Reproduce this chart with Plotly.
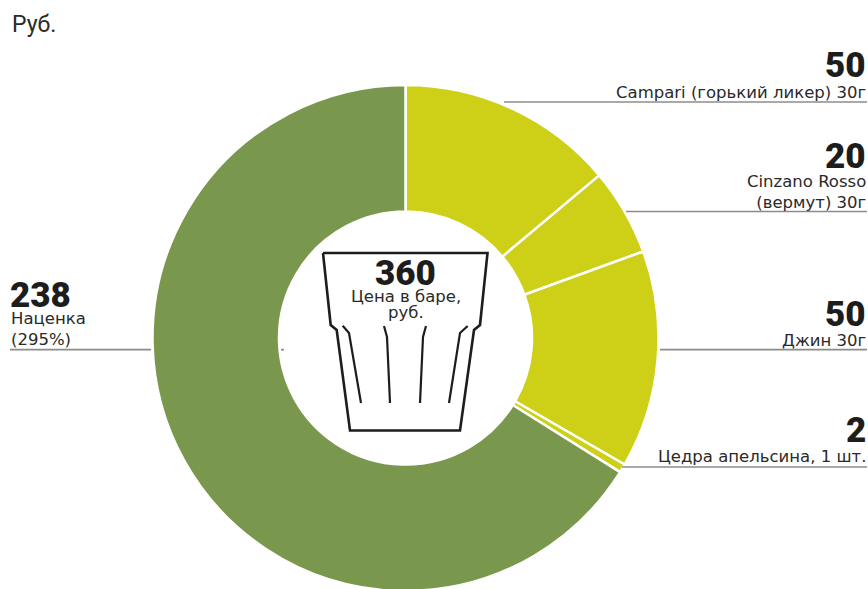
import plotly.graph_objects as go

categories = ["Campari", "Cinzano Rosso", "Джин", "Цедра апельсина", "Наценка"]
values = [50, 20, 50, 2, 238]
slice_colors = ["#CDD016", "#CDD016", "#CDD016", "#CDD016", "#7A974E"]
total_label = "360"
total_caption = ["Цена в баре,", "руб."]
unit_label = "Руб."

W, H = 868, 591
cx, cy, r = 405.5, 338, 253

def X(p): return p / W
def Y(p): return 1 - p / H

fig = go.Figure(go.Pie(
    labels=categories, values=values, hole=0.5, sort=False, direction="clockwise",
    rotation=0, textinfo="none", hoverinfo="label+value", showlegend=False,
    marker=dict(colors=slice_colors, line=dict(color="white", width=2.5)),
    domain=dict(x=[0, 2 * cx / W], y=[0, 2 * r / H]),
))

NUM = dict(family="Roboto", size=35, color="#1d1d1b", weight=900)
LAB = dict(family="DejaVu Sans", size=16.5, color="#2a2a28")

def text(x, y, s, font, anchor="right", yanchor="bottom"):
    fig.add_annotation(x=X(x), y=Y(y), xref="paper", yref="paper", text=s, showarrow=False,
                       xanchor=anchor, yanchor=yanchor, align=anchor, font=font, borderpad=0)

def line(x0, y0, x1, y1, color="#8c8c8c", width=1.7):
    fig.add_shape(type="line", x0=X(x0), x1=X(x1), y0=Y(y0), y1=Y(y1), xref="paper", yref="paper",
                  line=dict(color=color, width=width), layer="above")

callouts = [
    (867, 87.5, "50", "Campari (горький ликер) 30г", 103),
    (867, 178.5, "20", "Cinzano Rosso<br>(вермут) 30г", 213),
    (867, 335.5, "50", "Джин 30г", 351),
    (867, 452, "2", "Цедра апельсина, 1 шт.", 467),
]
for x, ny, n, lab, ly in callouts:
    text(x, ny, n, NUM)
    text(x, ly, lab, LAB)
text(9, 317, "238", NUM, anchor="left")
text(10, 350, "Наценка<br>(295%)", LAB, anchor="left")
text(11, 39, unit_label, dict(family="Roboto", size=23, color="#2a2a28"), anchor="left")

for x0, x1, y in [(504, 867, 102), (626, 867, 211.5), (660, 867, 349.7), (622, 867, 467), (10, 151, 349.7), (281, 284, 349.7)]:
    line(x0, y, x1, y)

def path(pts, w=2.2):
    d = "M " + " L ".join(f"{X(a):.5f} {Y(b):.5f}" for a, b in pts)
    fig.add_shape(type="path", path=d, xref="paper", yref="paper",
                  line=dict(color="#1d1d1b", width=w), layer="above")

path([(323, 253), (487.5, 253), (480, 325), (474, 330), (460, 430.5), (350, 430.5), (336.7, 330), (330.7, 325), (323, 253)], 2.6)
path([(342.7, 325.7), (349, 333), (361, 403)])
path([(384, 326), (387, 337), (390, 403)])
path([(426, 326), (423, 337), (420, 403)])
path([(467.7, 326), (460, 333), (449, 403)])

text(405, 295, total_label, NUM, anchor="center")
text(405.5, 307, total_caption[0], LAB, anchor="center")
text(405.5, 323, total_caption[1], LAB, anchor="center")

fig.update_layout(width=W, height=H, margin=dict(l=0, r=0, t=0, b=0),
                  paper_bgcolor="white", plot_bgcolor="white")
fig.write_html("out.html", config={"displayModeBar": False},
               post_script="document.body.style.margin='0';document.documentElement.style.overflow='hidden';")
